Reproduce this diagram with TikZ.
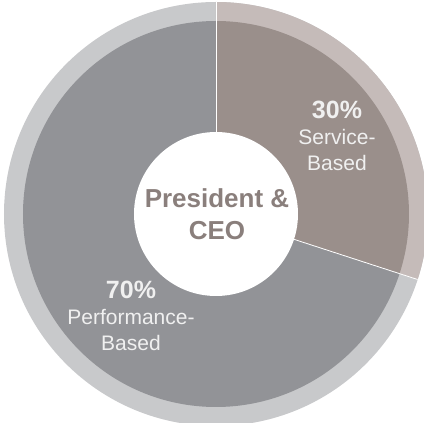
\documentclass[tikz,border=0pt]{standalone}
\usepackage{fontspec}
\setmainfont{Liberation Sans}
\usetikzlibrary{positioning}

\definecolor{perfgray}{HTML}{929397}
\definecolor{servbrown}{HTML}{9A8F8B}
\definecolor{ringgray}{HTML}{C8C9CB}
\definecolor{ringbrown}{HTML}{C5BBB9}
\definecolor{ceotext}{HTML}{8A7F7C}

\newcommand{\pct}[1]{{\fontsize{25}{26}\selectfont\bfseries #1}}

\begin{document}
\begin{tikzpicture}[
    x=1pt, y=1pt,
    share/.style={text=white!94!black, align=center, font=\fontsize{21}{26}\selectfont},
    centre/.style={text=ceotext, align=center, font=\fontsize{26}{32}\selectfont\bfseries},
    divider/.style={draw=white, line width=0.8pt}
]

\useasboundingbox (-216,-209) rectangle (208,214);
\clip (-216,-209) rectangle (208,214);

% outer ring
\fill[ringgray] (0,0) circle (212);
\fill[ringbrown] (0,0) -- (90:212) arc (90:-18:212) -- cycle;

% pie wedges
\fill[perfgray] (0,0) -- (90:193) arc (90:342:193) -- cycle;
\fill[servbrown] (0,0) -- (90:193) arc (90:-18:193) -- cycle;

% wedge dividers
\coordinate (hub) at (0,0);
\coordinate (topcut) at (90:212);
\coordinate (sidecut) at (-18:212);
\draw[divider] (hub) -- (topcut);
\draw[divider] (hub) -- (sidecut);

% white centre
\fill[white] (hub) circle (82);

% labels
\node[centre] (ceo) at (1,0) {President \&\\CEO};
\node[share] (service) at (121,78) {\pct{30\%}\\Service-\\Based};
\node[share] (performance) at (-85,-102) {\pct{70\%}\\Performance-\\Based};

\end{tikzpicture}
\end{document}
